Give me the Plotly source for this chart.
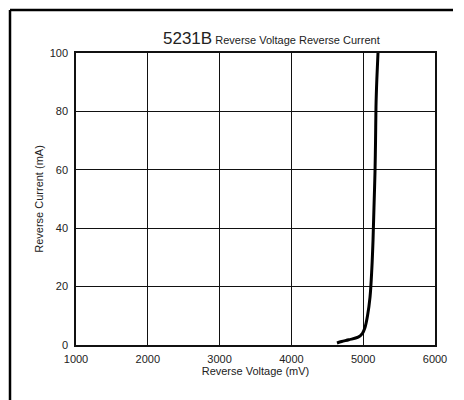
import plotly.graph_objects as go

voltage_mv = [4635, 4700, 4800, 4930, 4990, 5025, 5060, 5095, 5120, 5137, 5150, 5164, 5172, 5178, 5190, 5206]
current_ma = [0.7, 1.2, 1.8, 2.7, 4.0, 6.0, 10.0, 16.4, 26.0, 36.0, 47.0, 59.0, 70.0, 81.5, 91.0, 100.0]

x_ticks = [1000, 2000, 3000, 4000, 5000, 6000]
y_ticks = [0, 20, 40, 60, 80, 100]

title_main = "5231B"
title_sub = "Reverse Voltage Reverse Current"
x_title = "Reverse Voltage (mV)"
y_title = "Reverse Current (mA)"

OFF = 8  # page body margin
W, H = 464 - OFF, 400 - OFF
# plot area in viewport pixels: left 76, right 435, top 53, bottom 345
L = 76 - OFF
T = 53 - OFF
R = W - (435 - OFF)
B = H - (345 - OFF)
pw, ph = W - L - R, H - T - B

def px_x(p):
    return (p - OFF - L) / pw

def px_y(p):
    return (H - B - (p - OFF)) / ph

font = "Liberation Sans, Arial, sans-serif"

fig = go.Figure()
fig.add_trace(go.Scatter(
    x=voltage_mv, y=current_ma, mode="lines",
    line=dict(color="black", width=3, shape="spline"),
    showlegend=False, hoverinfo="skip",
))

bx0, by0 = px_x(10), px_y(10)
bx1, by1 = px_x(453), px_y(420)

fig.update_layout(
    width=W, height=H,
    margin=dict(l=L, r=R, t=T, b=B),
    paper_bgcolor="white", plot_bgcolor="white",
    font=dict(family=font, size=11, color="#222"),
    xaxis=dict(
        range=[1000, 6000], tickvals=x_ticks, ticktext=[str(v) for v in x_ticks],
        showgrid=True, gridcolor="#111", gridwidth=1,
        showline=True, linecolor="#111", linewidth=1.5, mirror=True,
        zeroline=False, ticks="", ticklabelstandoff=3,
        title=dict(text=x_title, standoff=1, font=dict(size=11)),
        tickfont=dict(size=11),
    ),
    yaxis=dict(
        range=[0, 100], tickvals=y_ticks, ticktext=[str(v) for v in y_ticks],
        showgrid=True, gridcolor="#111", gridwidth=1,
        showline=True, linecolor="#111", linewidth=1.5, mirror=True,
        zeroline=False, ticks="", ticklabelstandoff=4,
        title=dict(text=y_title, standoff=4, font=dict(size=11)),
        tickfont=dict(size=11),
    ),
    shapes=[
        dict(type="line", xref="paper", yref="paper",
             x0=bx0, x1=bx0, y0=by1, y1=by0,
             line=dict(color="black", width=2.5), layer="above"),
        dict(type="line", xref="paper", yref="paper",
             x0=bx0, x1=bx1, y0=by0, y1=by0,
             line=dict(color="black", width=2.5), layer="above"),
    ],
    annotations=[dict(
        xref="paper", yref="paper", x=px_x(271), y=px_y(50),
        xanchor="center", yanchor="bottom", showarrow=False,
        text=f"<span style='font-size:17px'>{title_main}</span> {title_sub}",
        font=dict(size=11, color="#222"),
    )],
)

fig.write_html("out.html")
